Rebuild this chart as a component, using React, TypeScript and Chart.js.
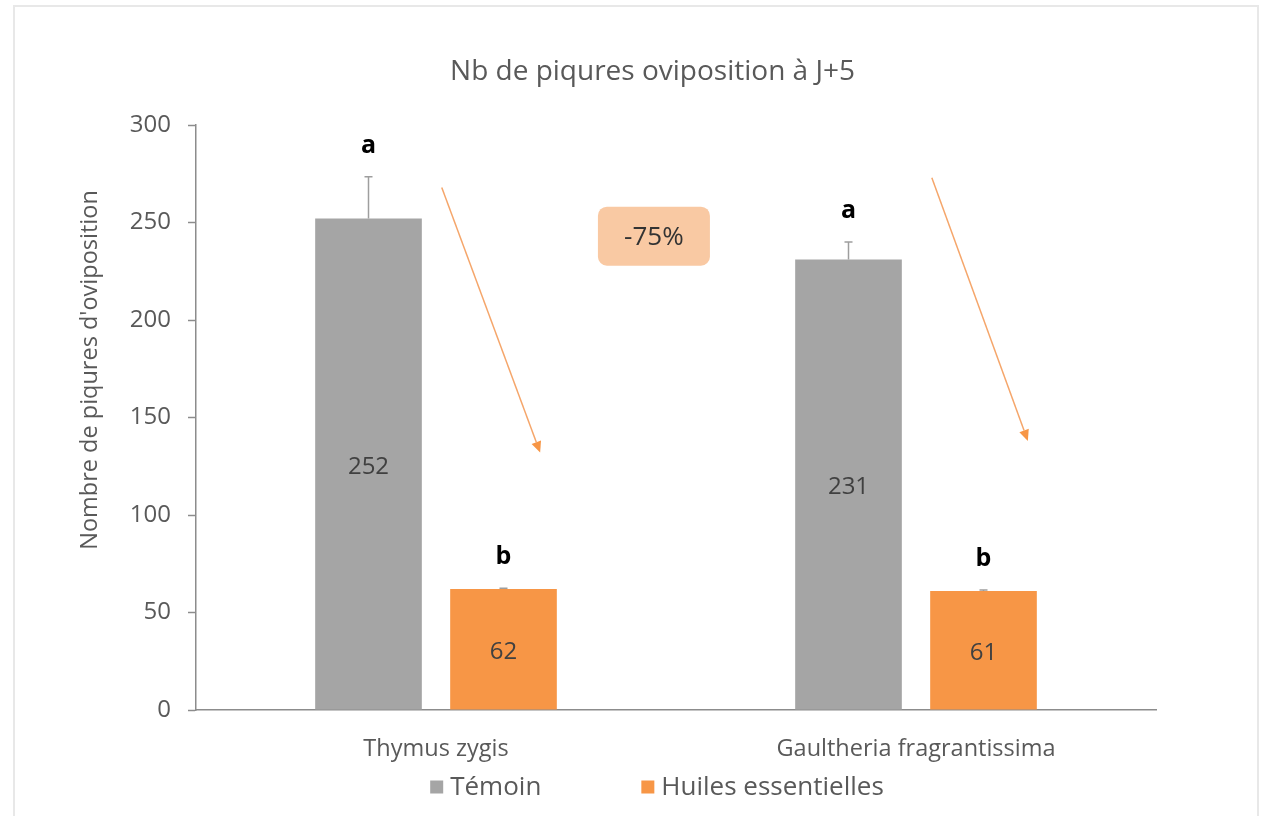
import React, { useEffect, useRef } from "react";
import { Chart, registerables } from "chart.js";

Chart.register(...registerables);

// ---------- data ----------
const chartTitle = "Nb de piqures oviposition à J+5";
const yAxisTitle = "Nombre de piqures d'oviposition";
const categories = ["Thymus zygis", "Gaultheria fragrantissima"];
const seriesNames = ["Témoin", "Huiles essentielles"];
const temoinValues = [252, 231];
const huilesValues = [62, 61];
const temoinErrors = [21.5, 9];
const huilesErrors = [0.5, 0.5];
const temoinLetters = ["a", "a"];
const huilesLetters = ["b", "b"];
const yMin = 0;
const yMax = 300;
const yStep = 50;
const reductionLabel = "-75%";
// annotation anchors in data space: [category index, value]
const reductionAnchor = [0.454, 243];
const arrowStarts = [
  [0.012, 268],
  [1.033, 273],
];
const arrowEnds = [
  [0.217, 132],
  [1.233, 138],
];

// ---------- styles ----------
const FONT = "'Open Sans', 'Noto Sans', sans-serif";
const TEXT = "#595959";
const GREY = "#A5A5A5";
const ORANGE = "#F79646";
const AXIS = "#8C8C8C";

const errorsBySeries = [temoinErrors, huilesErrors];
const lettersBySeries = [temoinLetters, huilesLetters];
const colorsBySeries = [GREY, ORANGE];

const overlayPlugin = {
  id: "overlay",
  afterDatasetsDraw(chart: any) {
    const ctx = chart.ctx as CanvasRenderingContext2D;
    const xs = chart.scales.x;
    const ys = chart.scales.y;
    ctx.save();

    // error bars, value labels, significance letters
    chart.data.datasets.forEach((ds: any, di: number) => {
      const meta = chart.getDatasetMeta(di);
      meta.data.forEach((bar: any, i: number) => {
        const v = ds.data[i] as number;
        const err = errorsBySeries[di][i];
        const yTop = ys.getPixelForValue(v + err);
        ctx.strokeStyle = "#9E9E9E";
        ctx.lineWidth = 1.5;
        ctx.beginPath();
        ctx.moveTo(bar.x, bar.y);
        ctx.lineTo(bar.x, yTop);
        ctx.moveTo(bar.x - 4, yTop);
        ctx.lineTo(bar.x + 4, yTop);
        ctx.stroke();

        ctx.fillStyle = "#404040";
        ctx.font = `24px ${FONT}`;
        ctx.textAlign = "center";
        ctx.textBaseline = "middle";
        ctx.fillText(String(v), bar.x, (bar.y + bar.base) / 2 + 3);

        ctx.fillStyle = "#000";
        ctx.font = `bold 25px ${FONT}`;
        ctx.fillText(lettersBySeries[di][i], bar.x, yTop - 31);
      });
    });

    // arrows
    arrowStarts.forEach((s, k) => {
      const e = arrowEnds[k];
      const x1 = xs.getPixelForValue(s[0]);
      const y1 = ys.getPixelForValue(s[1]);
      const x2 = xs.getPixelForValue(e[0]);
      const y2 = ys.getPixelForValue(e[1]);
      const ang = Math.atan2(y2 - y1, x2 - x1);
      const hl = 11;
      const hw = 5;
      const bx = x2 - hl * Math.cos(ang);
      const by = y2 - hl * Math.sin(ang);
      ctx.strokeStyle = "#F5A66B";
      ctx.lineWidth = 1.5;
      ctx.beginPath();
      ctx.moveTo(x1, y1);
      ctx.lineTo(bx, by);
      ctx.stroke();
      ctx.fillStyle = ORANGE;
      ctx.beginPath();
      ctx.moveTo(x2, y2);
      ctx.lineTo(bx + hw * Math.sin(ang), by - hw * Math.cos(ang));
      ctx.lineTo(bx - hw * Math.sin(ang), by + hw * Math.cos(ang));
      ctx.closePath();
      ctx.fill();
    });

    // reduction box
    const cx = xs.getPixelForValue(reductionAnchor[0]);
    const cy = ys.getPixelForValue(reductionAnchor[1]);
    const bw = 112;
    const bh = 59;
    ctx.fillStyle = "#F9C9A3";
    ctx.beginPath();
    (ctx as any).roundRect(cx - bw / 2, cy - bh / 2, bw, bh, 9);
    ctx.fill();
    ctx.fillStyle = "#333";
    ctx.font = `26px ${FONT}`;
    ctx.textAlign = "center";
    ctx.textBaseline = "middle";
    ctx.fillText(reductionLabel, cx, cy + 1);

    ctx.restore();
  },
  afterDraw(chart: any) {
    const ctx = chart.ctx as CanvasRenderingContext2D;
    const area = chart.chartArea;
    const midX = (area.left + area.right) / 2;

    // chart title
    ctx.save();
    ctx.fillStyle = TEXT;
    ctx.font = `28px ${FONT}`;
    ctx.textAlign = "center";
    ctx.textBaseline = "middle";
    ctx.fillText(chartTitle, midX - 23.5, area.top - 53);
    ctx.restore();

    // y axis title
    ctx.save();
    ctx.translate(area.left - 106, 370);
    ctx.rotate(-Math.PI / 2);
    ctx.fillStyle = TEXT;
    ctx.font = `23.5px ${FONT}`;
    ctx.textAlign = "center";
    ctx.textBaseline = "middle";
    ctx.fillText(yAxisTitle, 0, 0);
    ctx.restore();

    // legend
    ctx.save();
    ctx.font = `26px ${FONT}`;
    ctx.textBaseline = "middle";
    ctx.textAlign = "left";
    const box = 13;
    const gapText = 7;
    const gapItem = 100;
    const widths = seriesNames.map((n) => ctx.measureText(n).width);
    const total =
      widths.reduce((a, w) => a + box + gapText + w, 0) + gapItem * (seriesNames.length - 1);
    let x = midX - 19 - total / 2;
    const y = 787;
    seriesNames.forEach((n, i) => {
      ctx.fillStyle = colorsBySeries[i];
      ctx.fillRect(x, y - box / 2, box, box);
      ctx.fillStyle = TEXT;
      ctx.fillText(n, x + box + gapText, y + 1);
      x += box + gapText + widths[i] + gapItem;
    });
    ctx.restore();
  },
};

export default function App() {
  const ref = useRef<HTMLCanvasElement>(null);
  useEffect(() => {
    const chart = new Chart(ref.current as HTMLCanvasElement, {
      type: "bar",
      data: {
        labels: categories,
        datasets: [
          {
            label: seriesNames[0],
            data: temoinValues,
            backgroundColor: GREY,
            categoryPercentage: 0.5625,
            barPercentage: 0.79,
          },
          {
            label: seriesNames[1],
            data: huilesValues,
            backgroundColor: ORANGE,
            categoryPercentage: 0.5625,
            barPercentage: 0.79,
          },
        ],
      },
      options: {
        responsive: false,
        animation: false,
        devicePixelRatio: 1,
        layout: { padding: { left: 100, right: 117, top: 125, bottom: 0 } },
        plugins: {
          legend: { display: false },
          tooltip: { enabled: false },
          title: { display: false },
        },
        scales: {
          x: {
            grid: { display: false },
            border: { display: true, color: AXIS, width: 1.5 },
            ticks: { color: TEXT, font: { family: FONT, size: 23.5 }, padding: 17 },
            afterFit: (s: any) => {
              s.height = 106;
            },
          },
          y: {
            min: yMin,
            max: yMax,
            ticks: {
              stepSize: yStep,
              color: TEXT,
              font: { family: FONT, size: 24 },
              padding: 17,
            },
            grid: {
              drawOnChartArea: false,
              drawTicks: true,
              tickLength: 8,
              tickColor: AXIS,
              tickWidth: 1.5,
            },
            border: { display: true, color: AXIS, width: 1.5 },
            afterFit: (s: any) => {
              s.width = 96;
            },
          },
        },
      },
      plugins: [overlayPlugin],
    } as any);
    return () => chart.destroy();
  }, []);
  return (
    <div
      style={{
        position: "fixed",
        left: 0,
        top: 0,
        width: 1273,
        height: 816,
        background: "#fff",
        overflow: "hidden",
      }}
    >
      <div
        style={{
          position: "absolute",
          left: 13,
          top: 5,
          width: 1246,
          height: 840,
          border: "2px solid #E8E8E8",
          boxSizing: "border-box",
        }}
      />
      <canvas
        ref={ref}
        width={1273}
        height={816}
        style={{ position: "absolute", left: 0, top: 0, width: 1273, height: 816 }}
      />
    </div>
  );
}
